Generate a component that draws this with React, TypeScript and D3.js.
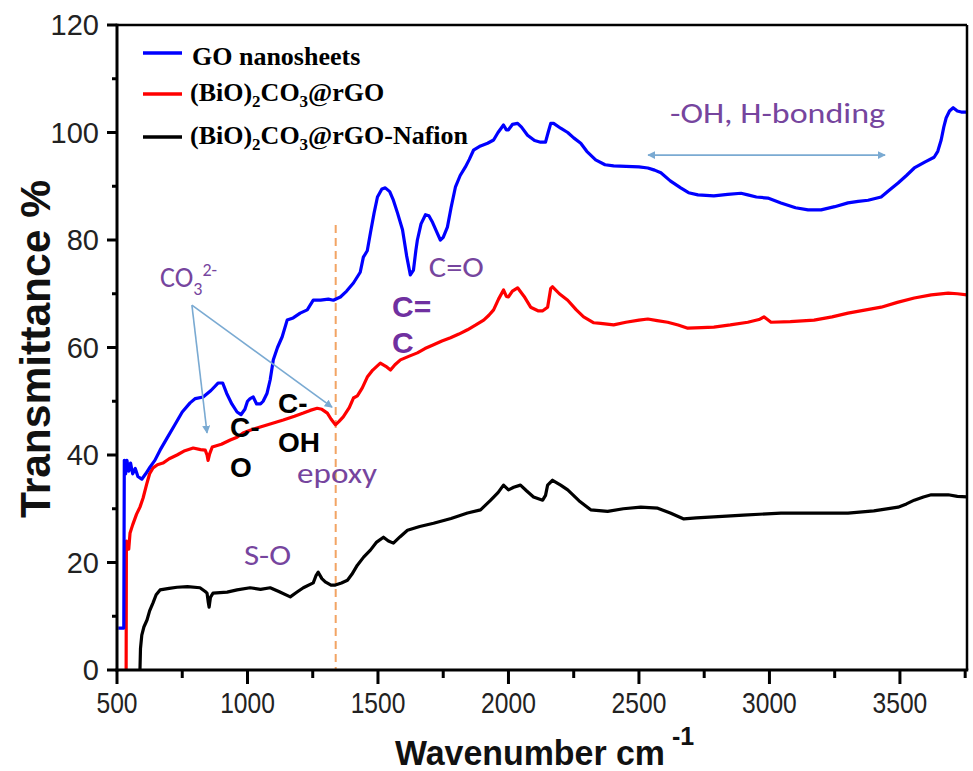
import React from "react";
import * as d3 from "d3";

// ---------- data (wavenumber cm^-1, transmittance %) ----------
const goWn = [505,526,528,533,538,545,552,560,570,580,595,610,627,645,665,690,720,750,780,800,830,860,888,905,920,940,960,975,990,1000,1010,1022,1035,1050,1060,1075,1087,1099,1115,1133,1152,1175,1202,1229,1252,1280,1310,1329,1356,1380,1406,1432,1444,1459,1471,1485,1498,1515,1528,1545,1559,1575,1594,1610,1624,1636,1645,1651,1665,1682,1695,1709,1725,1739,1750,1766,1780,1797,1815,1835,1850,1866,1893,1920,1943,1960,1981,1992,2000,2015,2035,2050,2073,2100,2123,2142,2152,2162,2173,2200,2227,2250,2277,2300,2334,2370,2403,2450,2500,2534,2560,2584,2620,2660,2690,2726,2787,2840,2891,2917,2950,2994,3044,3100,3148,3198,3250,3301,3340,3378,3428,3460,3493,3525,3555,3595,3631,3645,3658,3668,3677,3690,3704,3720,3735,3757];
const goT = [7.8,7.8,39,36.5,39,37,38.5,36.5,37.5,36,35.5,36.5,37.8,39,40.9,43,45.5,48,49.7,50.5,50.8,52,53.4,53.4,51.5,49.5,48,47.5,48.5,50,50.5,50.8,49.5,49.5,50,51.5,54,57.7,60,62,65.1,65.5,66.4,67,68.8,68.8,69,68.8,69.4,70.5,72,74,76.8,78,81.3,85,88,89.5,89.7,89,87.4,85,81.9,77,73.5,74.4,78,80,83,84.7,84.5,83.3,81.5,80,80.5,82.4,86,89.9,92,93.6,95,96.7,97.5,98,98.6,100,101.4,100.5,100.5,101.5,101.7,101,99.5,98.5,98.2,98.2,100,101.7,101.7,100.8,100,99,98,96.5,94.9,94,93.8,93.7,93.6,93.4,93,92.5,91,89.7,88.8,88.4,88.2,88.5,88.7,88.4,88,87.8,86.9,86,85.6,85.6,86.2,86.9,87.2,87.4,88,89.3,90.6,92,93.4,94.5,95.4,96.5,98.6,101,102.7,104,104.6,104,103.8,103.8];

const rgoWn = [535,536,540,545,550,560,575,588,600,615,625,638,655,676,700,730,760,792,820,838,845,849,855,865,900,934,960,983,1010,1049,1090,1137,1180,1214,1240,1267,1285,1306,1320,1337,1350,1367,1390,1406,1421,1440,1459,1480,1509,1530,1548,1565,1586,1620,1651,1680,1713,1745,1778,1810,1843,1875,1905,1925,1943,1962,1981,1992,2000,2015,2035,2060,2085,2115,2130,2150,2162,2169,2195,2227,2260,2288,2327,2353,2403,2450,2500,2534,2570,2610,2650,2687,2740,2787,2850,2917,2960,2979,2990,3006,3080,3171,3240,3301,3370,3428,3490,3555,3620,3685,3720,3757];
const rgoT = [0,24,23,22.5,25.5,27,29,30.3,32,34.8,36.5,37.6,38.2,38.5,39.3,40,40.8,41.3,41,40.9,40,39,40.2,41.5,42,42.8,43.3,44.1,44.6,45.2,45.8,46.5,47.2,47.8,48.3,48.7,48.5,47.8,46.7,45.6,46.2,47.1,48.8,50.6,51,52.5,54.5,55.8,57.1,56.5,55.8,56.8,57.7,58.4,59,59.8,60.5,61.2,61.8,62.5,63.3,64.2,65.1,66,67,69,70.7,69.5,69.4,70.5,71.1,69.5,67.5,66.8,66.8,67.5,71,71.3,70,68.8,67,65.7,64.6,64.5,64.2,64.7,65.1,65.3,65,64.7,64.2,63.6,63.7,63.8,64.2,64.7,65.2,65.7,65.3,64.7,64.8,65.1,65.7,66.4,67,67.5,68.4,69.2,69.8,70.1,70,69.8];

const nafWn = [588,590,595,603,615,625,638,650,665,700,730,770,818,838,845,850,853,858,868,922,960,1010,1050,1087,1120,1164,1190,1214,1252,1262,1271,1285,1298,1320,1337,1360,1383,1400,1421,1445,1471,1495,1521,1540,1559,1585,1613,1660,1713,1780,1843,1893,1930,1960,1981,2000,2020,2046,2070,2096,2131,2142,2150,2169,2200,2227,2270,2315,2380,2440,2507,2572,2620,2672,2720,2787,2900,3044,3150,3301,3400,3493,3525,3555,3590,3620,3685,3720,3757];
const nafT = [0,4,6.5,8,9.3,11,12.5,14,14.9,15.2,15.4,15.5,15.3,14.6,14.3,12.5,11.7,13.5,14.3,14.5,14.9,15.3,15,15.3,14.6,13.6,14.5,15.3,16.2,17.5,18.2,17,16.4,15.8,15.8,16.2,16.7,17.8,19.5,21,22.3,23.8,24.7,24,23.6,24.8,26,26.7,27.3,28.2,29.2,29.8,31.5,33,34.4,33.5,34,34.4,33.3,32.2,31.6,32.5,34.4,35.3,34.4,33.5,31.5,29.8,29.5,30,30.3,30.1,29.2,28.1,28.3,28.5,28.8,29.2,29.2,29.2,29.6,30.3,30.9,31.6,32.2,32.6,32.6,32.3,32.2];

const seriesNames = ["GO nanosheets", "(BiO)2CO3@rGO", "(BiO)2CO3@rGO-Nafion"];
const seriesColors = ["#0000ff", "#ff0000", "#000000"];

const xTicks = [500, 1000, 1500, 2000, 2500, 3000, 3500];
const xMinorTicks = [750, 1250, 1750, 2250, 2750, 3250, 3750];
const yTicks = [0, 20, 40, 60, 80, 100, 120];
const yMinorTicks = [10, 30, 50, 70, 90, 110];

const xDomain = [500, 3757];
const yDomain = [0, 120];
const epoxyWn = 1338;
const epoxyTop = 82.8;

export default function App() {
  const L = 117, R = 967, T = 25, B = 670;
  const x = d3.scaleLinear().domain(xDomain).range([L, R]);
  const y = d3.scaleLinear().domain(yDomain).range([B, T]);
  const line = d3.line<[number, number]>().x((d) => x(d[0])).y((d) => y(d[1]));
  const mk = (wn: number[], t: number[]) => wn.map((w, i) => [w, t[i]] as [number, number]);
  const paths = [mk(nafWn, nafT), mk(rgoWn, rgoT), mk(goWn, goT)];
  const pathColors = ["#000000", "#ff0000", "#0000ff"];

  const purple = "#76459e";
  const arrowBlue = "#7aaad2";
  const annoFont = "Carlito, Calibri, Lato, 'Open Sans', sans-serif";
  const sans = "'Liberation Sans', Arial, sans-serif";
  const serif = "'Liberation Serif', 'Times New Roman', serif";

  const P = (w: number, v: number) => ({ x: x(w), y: y(v) });
  const co3From = P(787, 67.9);
  const co3To1 = P(845, 44.1);
  const co3To2 = P(1324, 48.9);
  const hbL = P(2535, 95.8);
  const hbR = P(3443, 95.8);

  return (
    <svg width={973} height={771} style={{ position: "absolute", left: 0, top: 0, background: "#fff" }}>
      <defs>
        <clipPath id="plot">
          <rect x={L} y={T} width={R - L} height={B - T} />
        </clipPath>
        <marker id="ah" viewBox="0 0 10 10" refX="9" refY="5" markerWidth="5" markerHeight="5" orient="auto-start-reverse" markerUnits="strokeWidth">
          <path d="M0,0 L10,5 L0,10 z" fill={arrowBlue} />
        </marker>
      </defs>
      <rect x={0} y={0} width={973} height={771} fill="#fff" />

      {/* epoxy dashed line */}
      <line x1={x(epoxyWn)} x2={x(epoxyWn)} y1={y(epoxyTop)} y2={y(0)} stroke="#f2a464" strokeWidth={2} strokeDasharray="8,5" />

      {/* series */}
      <g clipPath="url(#plot)">
        {paths.map((p, i) => (
          <path key={i} d={line(p) || ""} fill="none" stroke={pathColors[i]} strokeWidth={3.2} strokeLinejoin="round" />
        ))}
      </g>

      {/* frame */}
      <line x1={L} x2={R} y1={T} y2={T} stroke="#000" strokeWidth={2.5} />
      <line x1={R} x2={R} y1={T} y2={B} stroke="#000" strokeWidth={2.5} />
      <line x1={L} x2={L} y1={T - 1.25} y2={B + 1.5} stroke="#000" strokeWidth={3} />
      <line x1={L - 1.5} x2={R + 1.25} y1={B} y2={B} stroke="#000" strokeWidth={3} />

      {/* x ticks */}
      {xTicks.map((t) => (
        <g key={"xt" + t}>
          <line x1={x(t)} x2={x(t)} y1={B} y2={B + 14} stroke="#000" strokeWidth={3} />
          <text transform={`translate(${x(t)},713) scale(0.82,1)`} textAnchor="middle" fontFamily={sans} fontSize={30} fill="#222">{t}</text>
        </g>
      ))}
      {xMinorTicks.map((t) => (
        <line key={"xm" + t} x1={x(t)} x2={x(t)} y1={B} y2={B + 8} stroke="#000" strokeWidth={3} />
      ))}

      {/* y ticks */}
      {yTicks.map((t) => (
        <g key={"yt" + t}>
          <line x1={L - 10} x2={L} y1={y(t)} y2={y(t)} stroke="#000" strokeWidth={3} />
          <text x={99} y={y(t)} dy="0.36em" textAnchor="end" fontFamily={sans} fontSize={29} fill="#222">{t}</text>
        </g>
      ))}
      {yMinorTicks.map((t) => (
        <line key={"ym" + t} x1={L - 5} x2={L} y1={y(t)} y2={y(t)} stroke="#000" strokeWidth={3} />
      ))}

      {/* axis titles */}
      <text transform="translate(50,349) rotate(-90)" textAnchor="middle" fontFamily={sans} fontWeight="bold" fontSize={42} textLength={338} lengthAdjust="spacingAndGlyphs" fill="#111">Transmittance %</text>
      <text x={395} y={765} fontFamily={sans} fontWeight="bold" fontSize={35} textLength={270} lengthAdjust="spacingAndGlyphs" fill="#111">Wavenumber cm</text>
      <text x={672} y={745} fontFamily={sans} fontWeight="bold" fontSize={25} fill="#111">-1</text>

      {/* legend */}
      {seriesNames.map((n, i) => {
        const ly = [53, 94, 137][i];
        const ty = [65, 101, 144][i];
        return (
          <g key={n}>
            <line x1={143} x2={182} y1={ly} y2={ly} stroke={seriesColors[i]} strokeWidth={3.5} />
            {i === 0 ? (
              <text x={192} y={ty} fontFamily={serif} fontWeight="bold" fontSize={26} fill="#000">{n}</text>
            ) : (
              <text x={190} y={ty} fontFamily={serif} fontWeight="bold" fontSize={26} fill="#000">
                (BiO)<tspan fontSize={17} dy={6}>2</tspan>
                <tspan dy={-6}>CO</tspan>
                <tspan fontSize={17} dy={6}>3</tspan>
                <tspan dy={-6}>{i === 1 ? "@rGO" : "@rGO-Nafion"}</tspan>
              </text>
            )}
          </g>
        );
      })}

      {/* annotations */}
      <line x1={co3From.x} y1={co3From.y} x2={co3To1.x} y2={co3To1.y} stroke={arrowBlue} strokeWidth={1.6} markerEnd="url(#ah)" />
      <line x1={co3From.x} y1={co3From.y} x2={co3To2.x} y2={co3To2.y} stroke={arrowBlue} strokeWidth={1.6} markerEnd="url(#ah)" />
      <line x1={hbL.x} y1={hbL.y} x2={hbR.x} y2={hbR.y} stroke={arrowBlue} strokeWidth={1.6} markerStart="url(#ah)" markerEnd="url(#ah)" />

      <text x={P(665, 71.3).x} y={P(665, 71.3).y} fontFamily={annoFont} fontSize={28} fill={purple}>
        CO<tspan fontSize={18} dy={8}>3</tspan><tspan fontSize={18} dy={-19}>2-</tspan>
      </text>
      <text x={P(933, 43.3).x} y={P(933, 43.3).y} fontFamily={sans} fontWeight="bold" fontSize={28} fill="#000">C-</text>
      <text x={P(933, 35.9).x} y={P(933, 35.9).y} fontFamily={sans} fontWeight="bold" fontSize={28} fill="#000">O</text>
      <text x={P(1117, 47.8).x} y={P(1117, 47.8).y} fontFamily={sans} fontWeight="bold" fontSize={28} fill="#000">C-</text>
      <text x={P(1117, 40.6).x} y={P(1117, 40.6).y} fontFamily={sans} fontWeight="bold" fontSize={28} fill="#000">OH</text>
      <text x={P(1190, 34.8).x} y={P(1190, 34.8).y} fontFamily={annoFont} fontSize={29} textLength={80} lengthAdjust="spacingAndGlyphs" fill={purple}>epoxy</text>
      <text x={P(987, 19.5).x} y={P(987, 19.5).y} fontFamily={annoFont} fontSize={28} textLength={47} lengthAdjust="spacingAndGlyphs" fill={purple}>S-O</text>
      <text x={P(1695, 73.1).x} y={P(1695, 73.1).y} fontFamily={annoFont} fontSize={28} textLength={55} lengthAdjust="spacingAndGlyphs" fill={purple}>C=O</text>
      <text x={P(1554, 65.7).x} y={P(1554, 65.7).y} fontFamily={sans} fontWeight="bold" fontSize={30} fill="#7030a0">C=</text>
      <text x={P(1554, 59).x} y={P(1554, 59).y} fontFamily={sans} fontWeight="bold" fontSize={30} fill="#7030a0">C</text>
      <text x={P(2619, 101.8).x} y={P(2619, 101.8).y} fontFamily={annoFont} fontSize={28} textLength={215} lengthAdjust="spacingAndGlyphs" fill={purple}>-OH, H-bonding</text>
    </svg>
  );
}
